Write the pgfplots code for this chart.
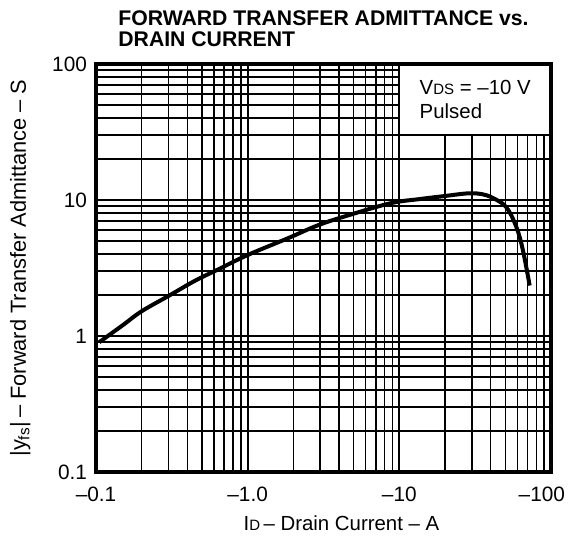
\documentclass[border=0pt]{standalone}
\usepackage{fontspec}
\setmainfont{Liberation Sans}
\usepackage{pgfplots}
\pgfplotsset{compat=1.18}

\begin{document}
\begin{tikzpicture}
\begin{loglogaxis}[
  scale only axis,
  width=227.5pt, height=204pt,
  xmin=0.1, xmax=100, ymin=0.1, ymax=100,
  xtick={0.1,1,10,100},
  xticklabels={\textendash0.1,\textendash1.0,\textendash10,\makebox[14pt][r]{\textendash100}},
  ytick={0.1,1,10,100},
  yticklabels={0.1,1,10,100},
  grid=both,
  major grid style={black, line width=0.9pt},
  minor grid style={black, line width=0.8pt},
  axis line style={line width=1.6pt},
  tick style={draw=none},
  tick label style={font=\fontsize{10.4}{12}\selectfont},
  xticklabel style={yshift=-4pt},
  yticklabel style={xshift=-1pt},
  xlabel={I{\fontsize{7.5}{9}\selectfont D}\,\textendash\ Drain Current \textendash\ A},
  ylabel={\textbar y\textsubscript{fs}\textbar\,\textendash\ Forward Transfer Admittance \textendash\ S},
  xlabel style={font=\fontsize{10.2}{12}\selectfont, xshift=9pt},
  ylabel style={font=\fontsize{10.9}{12}\selectfont, yshift=4pt},
]
\addplot[black, line width=2pt, smooth, tension=0.6] coordinates {
  (0.105,0.90) (0.15,1.20) (0.2,1.52) (0.308,2.0) (0.45,2.55) (0.64,3.09)
  (1.0,3.94) (1.84,5.23) (2.94,6.55) (4.69,7.76) (8.73,9.46)
  (14,10.2) (20,10.7) (26,11.1) (30.1,11.2) (35,11.05) (41,10.4)
  (50.5,8.9) (58.9,6.4) (65.2,4.3) (72.3,2.35)
};
\filldraw[fill=white, draw=black, line width=0.9pt]
  (axis cs:10,30) rectangle (axis cs:100,100);
\node[anchor=west, align=left, inner sep=2pt, font=\fontsize{10.2}{12.2}\selectfont]
  at ([xshift=8pt]axis cs:10,55) {V{\fontsize{7.5}{9}\selectfont DS} = \textendash10 V\\Pulsed};
\draw[line width=1.6pt] (rel axis cs:0,0) rectangle (rel axis cs:1,1);
\end{loglogaxis}
\node[anchor=north west, align=left, inner sep=0pt,
  font=\bfseries\fontsize{10.6}{10.8}\selectfont]
  at ([shift={(11pt,27pt)}]current axis.north west)
  {FORWARD TRANSFER ADMITTANCE vs.\\DRAIN CURRENT};
\pgfresetboundingbox
\path ([shift={(-48pt,-35pt)}]current axis.south west) rectangle
  ([shift={(9pt,32pt)}]current axis.north east);
\end{tikzpicture}
\end{document}
